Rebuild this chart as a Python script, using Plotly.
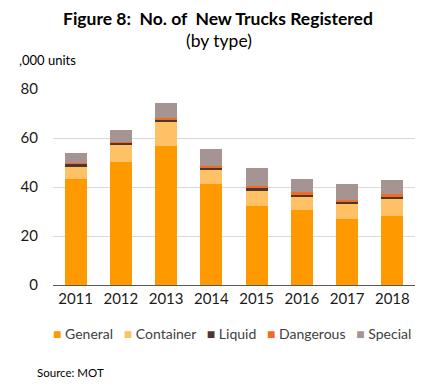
import plotly.graph_objects as go

years = ["2011", "2012", "2013", "2014", "2015", "2016", "2017", "2018"]
general = [43.1, 50.3, 56.7, 41.2, 32.4, 30.7, 27.0, 28.2]
container = [5.2, 6.8, 9.8, 5.7, 6.0, 5.3, 6.2, 7.1]
liquid = [1.1, 1.1, 1.0, 1.0, 1.2, 0.9, 0.8, 0.8]
dangerous = [0.2, 0.3, 0.7, 0.7, 0.8, 0.9, 0.8, 0.9]
special = [4.1, 4.8, 6.1, 6.9, 7.4, 5.5, 6.4, 5.9]

series = [
    ("General", general, "#FF9900"),
    ("Container", container, "#FFC166"),
    ("Liquid", liquid, "#4E3630"),
    ("Dangerous", dangerous, "#F56A1E"),
    ("Special", special, "#A59492"),
]

FONT = "Lato"
OFF = 8  # page body margin in the browser
W, H = 440 - OFF, 387 - OFF
ML, MT = 53 - OFF, 89 - OFF
MR = W - (415 - OFF)
MB = H - (285 - OFF)

fig = go.Figure()
for name, vals, col in series:
    fig.add_trace(go.Bar(x=years, y=vals, name=name, showlegend=False,
                         marker=dict(color=col, line=dict(width=0))))

legend_html = "&nbsp;&nbsp;&nbsp;".join(
    f"<span style='color:{col}'>■</span>&nbsp;{name}" for name, _, col in series)

pw = W - ML - MR
ph = H - MT - MB


def px(x):
    return (x - OFF - ML) / pw


def py(y):
    return (H - MB - (y - OFF)) / ph


fig.update_layout(
    barmode="stack",
    bargap=0.51,
    width=W, height=H,
    margin=dict(l=ML, r=MR, t=MT, b=MB, autoexpand=False),
    paper_bgcolor="white", plot_bgcolor="white",
    font=dict(family=FONT, color="#000000"),
    showlegend=False,
    xaxis=dict(type="category", showline=True, linecolor="#595959", linewidth=1,
               ticks="", tickfont=dict(size=15, color="#1a1a1a"), showgrid=False),
    yaxis=dict(range=[0, 80], dtick=20, showgrid=True, gridcolor="#D9D9D9", gridwidth=1,
               zeroline=False, showline=False, ticks="",
               tickfont=dict(size=15, color="#1a1a1a"), ticklabelstandoff=14),
    annotations=[
        dict(text="<b>Figure 8:&nbsp; No. of&nbsp; New Trucks Registered</b>",
             x=px(218), y=py(18), font=dict(size=17.5, family=FONT)),
        dict(text="(by type)", x=px(219), y=py(40), font=dict(size=17.5, family=FONT)),
        dict(text=",000 units", x=px(17), y=py(60), xanchor="left",
             font=dict(size=13, family=FONT)),
        dict(text=legend_html, x=px(232), y=py(333),
             font=dict(size=14, family=FONT, color="#404040")),
        dict(text="Source: MOT", x=px(35), y=py(372), xanchor="left",
             font=dict(size=11.5, family=FONT)),
    ],
)
fig.update_annotations(xref="paper", yref="paper", showarrow=False, yanchor="middle")

fig.write_html("out.html")
